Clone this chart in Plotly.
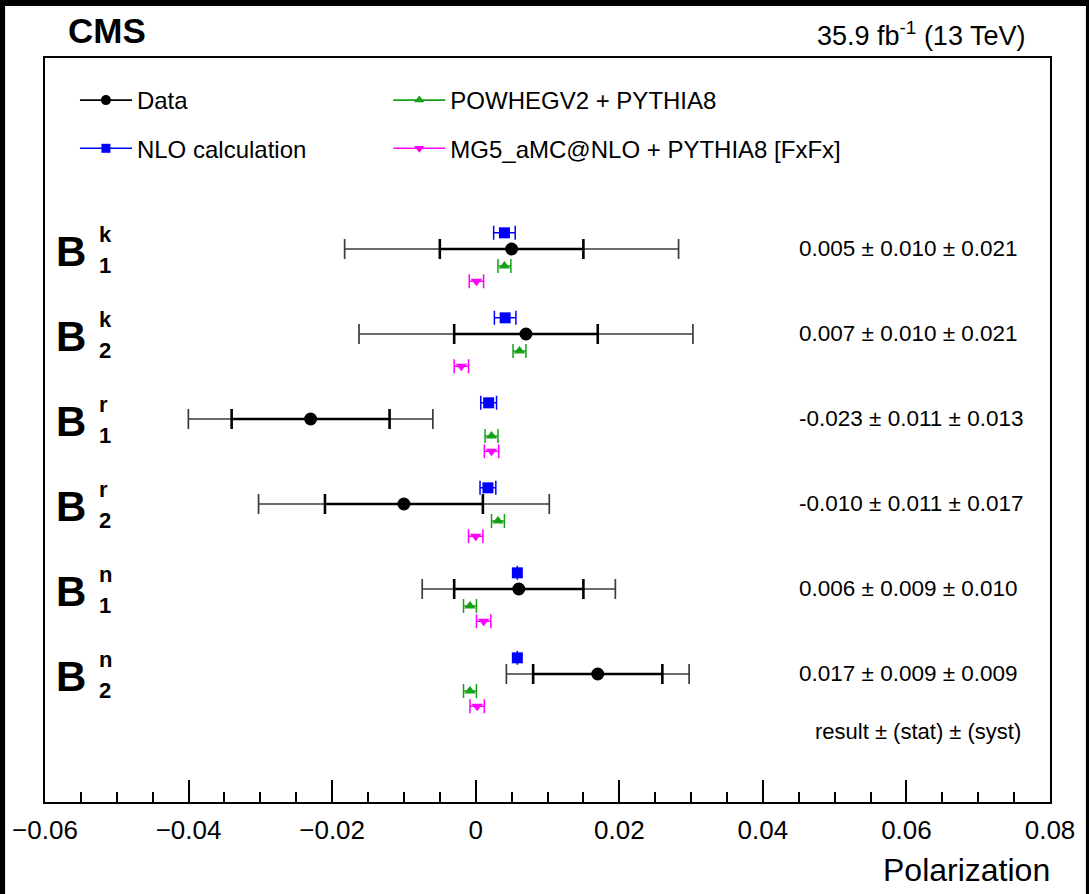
import math
import plotly.graph_objects as go

# ---------------- data ----------------
row_sup = ["k", "k", "r", "r", "n", "n"]
row_sub = ["1", "2", "1", "2", "1", "2"]

data_val = [0.005, 0.007, -0.023, -0.010, 0.006, 0.017]
data_stat = [0.010, 0.010, 0.011, 0.011, 0.009, 0.009]
data_syst = [0.021, 0.021, 0.013, 0.017, 0.010, 0.009]

nlo_val = [0.0040, 0.0041, 0.0018, 0.0017, 0.0058, 0.0058]
nlo_err = [0.0015, 0.0015, 0.0011, 0.0011, 0.0, 0.0]

powheg_val = [0.0040, 0.0061, 0.0022, 0.0031, -0.0008, -0.0008]
powheg_err = [0.0009, 0.0009, 0.0009, 0.0009, 0.0009, 0.0009]

mg5_val = [0.0001, -0.0020, 0.0022, 0.0000, 0.0011, 0.0002]
mg5_err = [0.0010, 0.0010, 0.0010, 0.0010, 0.0010, 0.0010]

x_ticks = [-0.06, -0.04, -0.02, 0, 0.02, 0.04, 0.06, 0.08]

# ---------------- layout helpers ----------------
W, H = 1089, 894
ML, MR, MT, MB = 43, 39, 58, 92
PW, PH = W - ML - MR, H - MT - MB
FONT = "Liberation Sans, Arial, Helvetica, sans-serif"

def px_x(px):
    return (px - ML) / PW

def px_y(py):
    return (H - MB - py) / PH

rows = list(range(len(data_val)))
data_tot = [math.sqrt(s * s + y * y) for s, y in zip(data_stat, data_syst)]

GREEN = "#16a016"
BLUE = "#0000ff"
MAGENTA = "#ff00ff"

fig = go.Figure()

# Data: total uncertainty (thin)
fig.add_trace(go.Scatter(
    x=data_val, y=rows, mode="markers",
    marker=dict(size=1, color="rgba(0,0,0,0)"),
    error_x=dict(type="data", array=data_tot, color="#3c3c3c", thickness=1.7, width=10),
    showlegend=False, hoverinfo="skip"))
# Data: stat uncertainty (thick)
fig.add_trace(go.Scatter(
    x=data_val, y=rows, mode="markers",
    marker=dict(size=13, color="black", symbol="circle"),
    error_x=dict(type="data", array=data_stat, color="black", thickness=2.6, width=10),
    showlegend=False))

fig.add_trace(go.Scatter(
    x=nlo_val, y=[r - 0.19 for r in rows], mode="markers",
    marker=dict(size=11, color=BLUE, symbol="square"),
    error_x=dict(type="data", array=nlo_err, color=BLUE, thickness=1.5, width=7),
    showlegend=False))
fig.add_trace(go.Scatter(
    x=powheg_val, y=[r + 0.2 for r in rows], mode="markers",
    marker=dict(size=10, color=GREEN, symbol="triangle-up"),
    error_x=dict(type="data", array=powheg_err, color=GREEN, thickness=1.5, width=7),
    showlegend=False))
fig.add_trace(go.Scatter(
    x=mg5_val, y=[r + 0.38 for r in rows], mode="markers",
    marker=dict(size=10, color=MAGENTA, symbol="triangle-down"),
    error_x=dict(type="data", array=mg5_err, color=MAGENTA, thickness=1.5, width=7),
    showlegend=False))

# legend entries
def leg(name, color, symbol, size, legend, group):
    fig.add_trace(go.Scatter(
        x=[None], y=[None], mode="lines+markers", name=name,
        line=dict(color=color, width=1.6),
        marker=dict(color=color, symbol=symbol, size=size),
        legend=legend, legendgroup=group))

leg("Data", "black", "circle", 10, "legend", "a")
leg("NLO calculation", BLUE, "square", 9, "legend", "b")
leg("POWHEGV2 + PYTHIA8", GREEN, "triangle-up", 9, "legend2", "c")
leg("MG5_aMC@NLO + PYTHIA8 [FxFx]", MAGENTA, "triangle-down", 9, "legend2", "d")

annotations = []
# row labels
for r, sp, sb in zip(rows, row_sup, row_sub):
    annotations.append(dict(x=-0.0587, y=r + 0.03, xref="x", yref="y", text="<b>B</b>",
                            showarrow=False, xanchor="left", yanchor="middle",
                            font=dict(size=42, color="black", family=FONT)))
    annotations.append(dict(x=-0.0528, y=r - 0.165, xref="x", yref="y", text="<b>%s</b>" % sp,
                            showarrow=False, xanchor="left", yanchor="middle",
                            font=dict(size=22, color="black", family=FONT)))
    annotations.append(dict(x=-0.0528, y=r + 0.2, xref="x", yref="y", text="<b>%s</b>" % sb,
                            showarrow=False, xanchor="left", yanchor="middle",
                            font=dict(size=22, color="black", family=FONT)))
# value texts
for r, v, s, y in zip(rows, data_val, data_stat, data_syst):
    annotations.append(dict(x=0.0448, y=r, xref="x", yref="y",
                            text="%.3f ± %.3f ± %.3f" % (v, s, y),
                            showarrow=False, xanchor="left", yanchor="middle",
                            font=dict(size=22.5, color="black", family=FONT)))
annotations.append(dict(x=0.0762, y=5.68, xref="x", yref="y",
                        text="result ± (stat) ± (syst)",
                        showarrow=False, xanchor="right", yanchor="middle",
                        font=dict(size=22, color="black", family=FONT)))
# header
annotations.append(dict(x=px_x(64), y=px_y(31), xref="paper", yref="paper", text="<b>CMS</b>",
                        showarrow=False, xanchor="left", yanchor="middle",
                        font=dict(size=35, color="black", family=FONT)))
annotations.append(dict(x=px_x(1027), y=px_y(34), xref="paper", yref="paper",
                        text="35.9 fb<sup>-1</sup> (13 TeV)",
                        showarrow=False, xanchor="right", yanchor="middle",
                        font=dict(size=27, color="black", family=FONT)))
annotations.append(dict(x=px_x(1052), y=px_y(870), xref="paper", yref="paper",
                        text="Polarization",
                        showarrow=False, xanchor="right", yanchor="middle",
                        font=dict(size=32, color="black", family=FONT)))

shapes = [dict(type="rect", xref="paper", yref="paper", layer="below",
               x0=px_x(3), x1=px_x(1086), y0=px_y(H + 5), y1=px_y(6),
               fillcolor="white", line=dict(width=0))]

fig.update_layout(
    width=W, height=H,
    margin=dict(l=ML, r=MR, t=MT, b=MB),
    paper_bgcolor="black", plot_bgcolor="white",
    font=dict(family=FONT, color="black"),
    annotations=annotations, shapes=shapes,
    legend=dict(x=px_x(73), y=px_y(78), xanchor="left", yanchor="top",
                font=dict(size=24, family=FONT, color="black"),
                itemwidth=52, traceorder="grouped", tracegroupgap=14,
                bgcolor="rgba(0,0,0,0)"),
    legend2=dict(x=px_x(387), y=px_y(78), xanchor="left", yanchor="top",
                 font=dict(size=24, family=FONT, color="black"),
                 itemwidth=52, traceorder="grouped", tracegroupgap=14,
                 bgcolor="rgba(0,0,0,0)"),
    xaxis=dict(range=[-0.06, 0.08], tickvals=x_ticks, ticks="inside", ticklen=22,
               tickwidth=1.5, tickcolor="black", showline=True, mirror=True,
               linecolor="black", linewidth=2, showgrid=False, zeroline=False,
               ticklabelstandoff=4,
               tickfont=dict(size=26, family=FONT, color="black"),
               minor=dict(dtick=0.005, tick0=0, ticks="inside", ticklen=10, tickwidth=1.5,
                          tickcolor="black", showgrid=False)),
    yaxis=dict(range=[6.506, -2.247], showticklabels=False, ticks="", showline=True,
               mirror=True, linecolor="black", linewidth=2, showgrid=False, zeroline=False),
    showlegend=True,
)

fig.write_html("out.html")
